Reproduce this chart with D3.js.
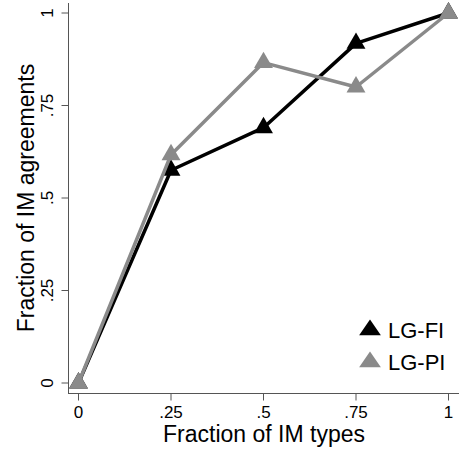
<!DOCTYPE html>
<html>
<head>
<meta charset="utf-8">
<script src="https://cdn.jsdelivr.net/npm/d3@7"></script>
<style>
  body { margin: 0; background: #fff; }
  text { font-family: "Liberation Sans", Arial, sans-serif; fill: #000; }
</style>
</head>
<body>
<div id="chart"></div>
<script>
// data
const xs = [0, 0.25, 0.5, 0.75, 1];
const fiValues = [0, 0.575, 0.69, 0.918, 1];
const piValues = [0, 0.617, 0.866, 0.80, 1];
const seriesNames = ["LG-FI", "LG-PI"];
const tickVals = [0, 0.25, 0.5, 0.75, 1];
const tickLabels = ["0", ".25", ".5", ".75", "1"];

const W = 459, H = 452;
const colors = ["#000000", "#8a8a8a"];

const svg = d3.select('#chart').append('svg')
  .attr('width', W)
  .attr('height', H);

const xscale = d3.scaleLinear().domain([0, 1]).range([78.5, 448.5]);
const yscale = d3.scaleLinear().domain([0, 1]).range([383, 13]);

const tickFmt = (d) => tickLabels[tickVals.indexOf(d)];

// y axis
svg.append('line')
  .attr('x1', 68.5).attr('x2', 68.5)
  .attr('y1', 3).attr('y2', 393.5)
  .attr('stroke', '#555').attr('stroke-width', 1);
const yg = svg.append('g').attr('transform', 'translate(68.5,0)');
yg.selectAll('line.tk').data(tickVals).enter().append('line')
  .attr('class', 'tk')
  .attr('x1', -7).attr('x2', 0)
  .attr('y1', (d) => yscale(d)).attr('y2', (d) => yscale(d))
  .attr('stroke', '#555');
yg.selectAll('text').data(tickVals).enter().append('text')
  .attr('transform', (d) => 'translate(-16,' + yscale(d) + ') rotate(-90)')
  .attr('text-anchor', 'middle')
  .attr('font-size', 17)
  .text(tickFmt);

// x axis
svg.append('line')
  .attr('x1', 68).attr('x2', W)
  .attr('y1', 393.5).attr('y2', 393.5)
  .attr('stroke', '#555').attr('stroke-width', 1);
const xg = svg.append('g').attr('transform', 'translate(0,393.5)');
xg.selectAll('line.tk').data(tickVals).enter().append('line')
  .attr('class', 'tk')
  .attr('x1', (d) => xscale(d)).attr('x2', (d) => xscale(d))
  .attr('y1', 0).attr('y2', 7)
  .attr('stroke', '#555');
xg.selectAll('text').data(tickVals).enter().append('text')
  .attr('x', (d) => xscale(d))
  .attr('y', 24.5)
  .attr('text-anchor', 'middle')
  .attr('font-size', 17)
  .text(tickFmt);

// axis titles
svg.append('text')
  .attr('transform', 'translate(34,198) rotate(-90)')
  .attr('text-anchor', 'middle')
  .attr('font-size', 23)
  .text('Fraction of IM agreements');
svg.append('text')
  .attr('x', 264).attr('y', 442)
  .attr('text-anchor', 'middle')
  .attr('font-size', 23)
  .text('Fraction of IM types');

// lines and markers
const allSeries = [fiValues, piValues];
const line = d3.line()
  .x((d, i) => xscale(xs[i]))
  .y((d) => yscale(d));
const tri = d3.symbol().type(d3.symbolTriangle).size(155);

allSeries.forEach((vals, k) => {
  svg.append('path')
    .datum(vals)
    .attr('d', line)
    .attr('fill', 'none')
    .attr('stroke', colors[k])
    .attr('stroke-width', 3.5)
    .attr('stroke-linejoin', 'round');
  svg.selectAll('.pt' + k).data(vals).enter().append('path')
    .attr('class', 'pt' + k)
    .attr('d', tri)
    .attr('transform', (d, i) => 'translate(' + xscale(xs[i]) + ',' + yscale(d) + ')')
    .attr('fill', colors[k]);
});

// legend
const leg = svg.append('g');
seriesNames.forEach((name, k) => {
  let y = 330 + k * 32;
  leg.append('path')
    .attr('d', tri)
    .attr('transform', 'translate(370,' + y + ') scale(1.15,0.95)')
    .attr('fill', colors[k]);
  leg.append('text')
    .attr('x', 388).attr('y', y + 8)
    .attr('font-size', 22)
    .text(name);
});
</script>
</body>
</html>
